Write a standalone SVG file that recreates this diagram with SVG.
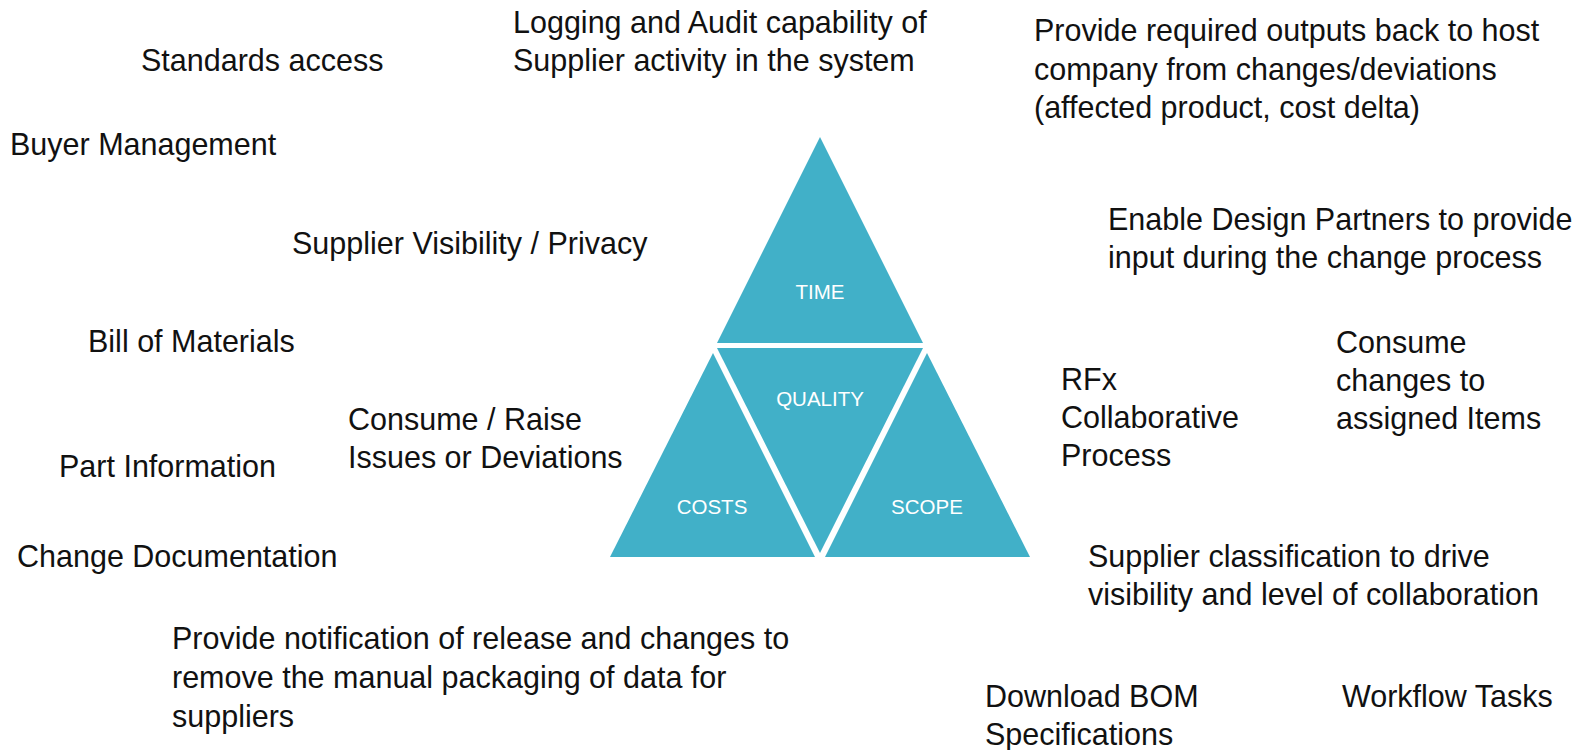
<svg xmlns="http://www.w3.org/2000/svg" width="1577" height="750" viewBox="0 0 1577 750">
<style>
.t{font-family:"Liberation Sans",Arial,sans-serif;font-size:30.5px;fill:#111}
.l{font-family:"Liberation Sans",Arial,sans-serif;font-size:20.5px;fill:#fff;text-anchor:middle}
.tri{fill:#41B0C8}
</style>
<rect width="1577" height="750" fill="#fff"/>
<g id="triangle">
<g id="time"><polygon class="tri" points="820,137 923,343 717,343"/><text class="l" x="820" y="299">TIME</text></g>
<g id="quality"><polygon class="tri" points="717,348 923,348 820,553"/><text class="l" x="820" y="406">QUALITY</text></g>
<g id="costs"><polygon class="tri" points="713,353 815,557 610,557"/><text class="l" x="712" y="514">COSTS</text></g>
<g id="scope"><polygon class="tri" points="927,353 1030,557 825,557"/><text class="l" x="927" y="514">SCOPE</text></g>
</g>
<g id="connectors"/>
<g id="standards"><text class="t" x="141" y="71">Standards access</text></g>
<g id="logging"><text class="t" x="513" y="33">Logging and Audit capability of</text><text class="t" x="513" y="71">Supplier activity in the system</text></g>
<g id="outputs"><text class="t" x="1034" y="41">Provide required outputs back to host</text><text class="t" x="1034" y="80">company from changes/deviations</text><text class="t" x="1034" y="118">(affected product, cost delta)</text></g>
<g id="buyer"><text class="t" x="10" y="155">Buyer Management</text></g>
<g id="visibility"><text class="t" x="292" y="254">Supplier Visibility / Privacy</text></g>
<g id="design"><text class="t" x="1108" y="230">Enable Design Partners to provide</text><text class="t" x="1108" y="268">input during the change process</text></g>
<g id="bom"><text class="t" x="88" y="352">Bill of Materials</text></g>
<g id="consume"><text class="t" x="1336" y="353">Consume</text><text class="t" x="1336" y="391">changes to</text><text class="t" x="1336" y="429">assigned Items</text></g>
<g id="rfx"><text class="t" x="1061" y="390">RFx</text><text class="t" x="1061" y="428">Collaborative</text><text class="t" x="1061" y="466">Process</text></g>
<g id="issues"><text class="t" x="348" y="430">Consume / Raise</text><text class="t" x="348" y="468">Issues or Deviations</text></g>
<g id="part"><text class="t" x="59" y="477">Part Information</text></g>
<g id="change"><text class="t" x="17" y="567">Change Documentation</text></g>
<g id="classification"><text class="t" x="1088" y="567">Supplier classification to drive</text><text class="t" x="1088" y="605">visibility and level of collaboration</text></g>
<g id="notification"><text class="t" x="172" y="649">Provide notification of release and changes to</text><text class="t" x="172" y="688">remove the manual packaging of data for</text><text class="t" x="172" y="727">suppliers</text></g>
<g id="download"><text class="t" x="985" y="707">Download BOM</text><text class="t" x="985" y="745">Specifications</text></g>
<g id="workflow"><text class="t" x="1342" y="707">Workflow Tasks</text></g>
</svg>
